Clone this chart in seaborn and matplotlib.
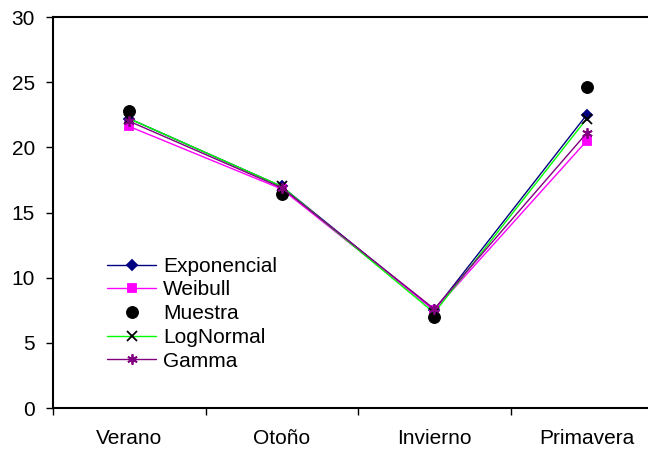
import matplotlib
matplotlib.use("Agg")
from matplotlib import pyplot as plt
from matplotlib.ticker import FixedLocator
import numpy as np
import pandas as pd
import seaborn as sns

estaciones = ['Verano', 'Otoño', 'Invierno', 'Primavera']
exponencial = [22.2, 17.0, 7.5, 22.5]
weibull = [21.6, 16.8, 7.5, 20.5]
muestra = [22.8, 16.4, 7.0, 24.6]
lognormal = [22.2, 17.0, 7.3, 22.2]
gamma = [22.0, 16.9, 7.6, 21.1]

sns.set_style("white")
plt.rcParams['font.family'] = ['Liberation Sans', 'DejaVu Sans']
plt.rcParams['text.color'] = 'black'
plt.rcParams['xtick.color'] = 'black'
plt.rcParams['ytick.color'] = 'black'

df = pd.DataFrame({'estacion': estaciones, 'Exponencial': exponencial, 'Weibull': weibull,
                   'Muestra': muestra, 'LogNormal': lognormal, 'Gamma': gamma})

fig = plt.figure(figsize=(6.48, 4.55), dpi=100)
ax = fig.add_axes([53 / 648, 47 / 455, 610 / 648, 391 / 455])

# series: (colour, marker, marker colour, marker size)
series = {
    'Exponencial': ('#000080', 'D', '#000080', 5.5),
    'Weibull': ('#ff00ff', 's', '#ff00ff', 5.5),
    'Muestra': (None, 'o', 'black', 8.5),
    'LogNormal': ('#00ff00', 'x', 'black', 7),
    'Gamma': ('#800080', (6, 2, 0), '#800080', 7.5),
}

for name, (col, mk, mcol, ms) in series.items():
    if col is None:
        sns.lineplot(data=df, x='estacion', y=name, ax=ax, sort=False, label=name,
                     linestyle='', marker=mk, markersize=ms, color=mcol,
                     markeredgecolor=mcol, markerfacecolor=mcol)
    else:
        sns.lineplot(data=df, x='estacion', y=name, ax=ax, sort=False, label=name,
                     color=col, linewidth=1, marker=mk, markersize=ms,
                     markerfacecolor=mcol, markeredgecolor=mcol, markeredgewidth=1.3)

ax.set_xlim(-0.5, 3.5)
ax.set_ylim(0, 30)
ax.set_yticks(np.arange(0, 31, 5))
ax.set_xticks(range(len(estaciones)))
ax.set_xticklabels(estaciones)
ax.xaxis.set_minor_locator(FixedLocator([-0.5, 0.5, 1.5, 2.5]))
ax.tick_params(axis='x', which='major', length=0, pad=15, labelsize=15)
ax.tick_params(axis='x', which='minor', length=5, width=1, direction='out', bottom=True)
ax.tick_params(axis='y', length=5, width=1, direction='out', left=True, labelsize=15, pad=8)
ax.set_xlabel('')
ax.set_ylabel('')

for s in ['left', 'bottom', 'top']:
    ax.spines[s].set_color('black')
    ax.spines[s].set_linewidth(1.5)
ax.spines['right'].set_visible(False)

leg = ax.legend(loc='upper left', bbox_to_anchor=(0.075, 0.408), frameon=False,
                fontsize=15, handlelength=2.35, handletextpad=0.35, labelspacing=0.225,
                borderaxespad=0)

plt.savefig('out.png', dpi=100)
